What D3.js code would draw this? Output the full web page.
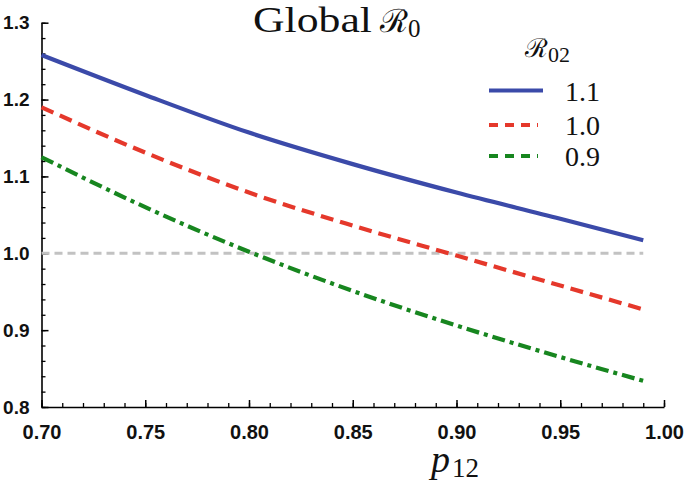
<!DOCTYPE html>
<html><head><meta charset="utf-8">
<script src="https://cdn.jsdelivr.net/npm/d3@7"></script>
<style>body{margin:0;background:#fff}svg{display:block}</style>
</head><body>
<script>
const pValues = [0.70, 0.75, 0.80, 0.85, 0.90, 0.95, 0.99];
const r02Labels = ["1.1", "1.0", "0.9"];
const seriesR11 = [1.258, 1.206, 1.157, 1.116, 1.079, 1.045, 1.017];
const seriesR10 = [1.190, 1.131, 1.079, 1.036, 0.997, 0.958, 0.927];
const seriesR09 = [1.125, 1.060, 1.002, 0.951, 0.906, 0.865, 0.834];
const xMajorTicks = [0.70, 0.75, 0.80, 0.85, 0.90, 0.95, 1.00];
const xTickLabels = ["0.70", "0.75", "0.80", "0.85", "0.90", "0.95", "1.00"];
const yMajorTicks = [0.8, 0.9, 1.0, 1.1, 1.2, 1.3];
const yTickLabels = ["0.8", "0.9", "1.0", "1.1", "1.2", "1.3"];
const refValue = 1.0;

const W = 685, H = 485;
const svg = d3.select("body").append("svg").attr("width", W).attr("height", H);

const x = d3.scaleLinear().domain([0.70, 1.00]).range([41.5, 664]);
const y = d3.scaleLinear().domain([0.8, 1.3]).range([407, 22.7]);

const xMinor = d3.range(70, 101).map(v => v / 100);
const yMinor = d3.range(40, 66).map(v => v / 50);

// minor ticks
svg.append("g").attr("transform", `translate(0,${y(0.8)})`)
  .call(d3.axisBottom(x).tickValues(xMinor).tickSize(-4).tickSizeOuter(0).tickFormat(""))
  .call(g => g.select(".domain").remove())
  .call(g => g.selectAll("line").attr("stroke", "#000").attr("stroke-width", 1.3));
svg.append("g").attr("transform", `translate(${x(0.70)},0)`)
  .call(d3.axisLeft(y).tickValues(yMinor).tickSize(-4).tickSizeOuter(0).tickFormat(""))
  .call(g => g.select(".domain").remove())
  .call(g => g.selectAll("line").attr("stroke", "#000").attr("stroke-width", 1.3));

// major axes
const xAxis = svg.append("g").attr("transform", `translate(0,${y(0.8)})`)
  .call(d3.axisBottom(x).tickValues(xMajorTicks).tickSize(-7).tickSizeOuter(0).tickPadding(18)
    .tickFormat((d, i) => xTickLabels[i]));
const yAxis = svg.append("g").attr("transform", `translate(${x(0.70)},0)`)
  .call(d3.axisLeft(y).tickValues(yMajorTicks).tickSize(-7).tickSizeOuter(0).tickPadding(12)
    .tickFormat((d, i) => yTickLabels[i]));
[xAxis, yAxis].forEach(g => {
  g.select(".domain").attr("stroke", "#000").attr("stroke-width", 1.6);
  g.selectAll(".tick line").attr("stroke", "#000").attr("stroke-width", 1.5);
  g.selectAll("text").attr("font-family", "Liberation Sans, Arial, sans-serif")
    .attr("font-weight", "bold").attr("font-size", 20).attr("fill", "#111");
});
yAxis.selectAll("text").attr("font-size", 19);

// reference line at 1.0
svg.append("line")
  .attr("x1", x(0.70)).attr("x2", x(0.99)).attr("y1", y(refValue)).attr("y2", y(refValue))
  .attr("stroke", "#c2c2c2").attr("stroke-width", 3).attr("stroke-dasharray", "8,5");

const seriesList = [
  { vals: seriesR11, color: "#3b4aa9", dash: null, legDash: null },
  { vals: seriesR10, color: "#e5382b", dash: "13,7", legDash: "9,7" },
  { vals: seriesR09, color: "#17861f", dash: "13,5,4,5", legDash: "9,7" }
];
const line = d3.line().x((d, i) => x(pValues[i])).y(d => y(d)).curve(d3.curveMonotoneX);
seriesList.forEach(s => {
  svg.append("path").datum(s.vals).attr("d", line)
    .attr("fill", "none").attr("stroke", s.color).attr("stroke-width", 4.2)
    .attr("stroke-dasharray", s.dash);
});

// title
const title = svg.append("text").attr("x", 253).attr("y", 32)
  .attr("font-family", "Liberation Serif, serif").attr("font-size", 36).attr("fill", "#111");
title.append("tspan").text("Global").attr("textLength", 119).attr("lengthAdjust", "spacingAndGlyphs");
title.append("tspan").attr("dx", 8).attr("font-family", "DejaVu Serif, serif").attr("font-size", 32).text("ℛ");
title.append("tspan").attr("dy", 5).attr("font-size", 25).text("0");

// x label
const xl = svg.append("text").attr("x", 431).attr("y", 472)
  .attr("font-family", "Liberation Serif, serif").attr("fill", "#111");
xl.append("tspan").attr("font-style", "italic").attr("font-size", 38).text("p");
xl.append("tspan").attr("dy", 5).attr("dx", 2).attr("font-size", 27).text("12");

// legend
const lt = svg.append("text").attr("x", 525).attr("y", 57)
  .attr("font-family", "Liberation Serif, serif").attr("fill", "#111");
lt.append("tspan").attr("font-family", "DejaVu Serif, serif").attr("font-size", 26).text("ℛ");
lt.append("tspan").attr("dy", 5).attr("font-size", 22).text("02");

const legY = [90.5, 125, 156];
seriesList.forEach((s, i) => {
  svg.append("line").attr("x1", 489).attr("x2", s.legDash ? 538 : 543)
    .attr("y1", legY[i]).attr("y2", legY[i])
    .attr("stroke", s.color).attr("stroke-width", 4).attr("stroke-dasharray", s.legDash);
  svg.append("text").attr("x", 565).attr("y", legY[i] + 10)
    .attr("font-family", "Liberation Serif, serif").attr("font-size", 28).attr("fill", "#111")
    .text(r02Labels[i]);
});
</script>
</body></html>
